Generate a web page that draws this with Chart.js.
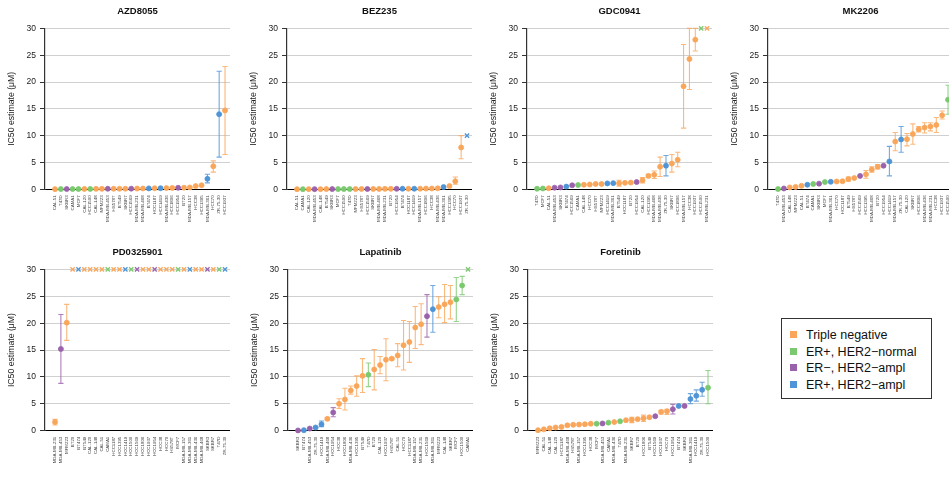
<!DOCTYPE html>
<html>
<head>
<meta charset="utf-8">
<script src="https://cdn.jsdelivr.net/npm/chart.js@4.4.1/dist/chart.umd.min.js"></script>
<style>
  html, body { margin: 0; padding: 0; background: #fff; overflow: hidden; }
  body { width: 949px; height: 477px; position: relative; }
  canvas { position: absolute; }
  #legend {
    position: absolute; left: 781px; top: 318px; width: 149px; height: 79px;
    border: 1px solid #333; font-family: 'Liberation Sans', Arial, sans-serif;
    font-size: 12.5px; color: #111;
  }
  .item { position: absolute; left: 8px; height: 16px; line-height: 16px; white-space: nowrap; }
  .swatch { display: inline-block; width: 7px; height: 7px; margin-right: 9px; vertical-align: 1px; }
</style>
</head>
<body>
<div id="legend"></div>
<script>
// Subtype of each cell line
const tripleNegative = ['BT20', 'BT549', 'CAL-120', 'CAL-148', 'CAL-51', 'HCC1187', 'HCC1395', 'HCC1806', 'HCC1937',
  'HCC38', 'HCC70', 'HS578T', 'MDA-MB-157', 'MDA-MB-231', 'MDA-MB-436', 'MDA-MB-468', 'MFM223', 'SKBR7'];
const erPosHer2Normal = ['CAMA1', 'HCC1500', 'MCF7', 'T47D'];
const erNegHer2Ampl = ['HCC1569', 'HCC1954', 'MDA-MB-453', 'SKBR3'];
const erPosHer2Ampl = ['BT474', 'HCC1419', 'MDA-MB-361', 'ZR-75-30'];
const subtypeNames = ['Triple negative', 'ER+, HER2\u2212normal', 'ER\u2212, HER2\u2212ampl', 'ER+, HER2\u2212ampl'];
const subtypeColors = ['#f9a65a', '#7bc96f', '#9a62ab', '#4e94d6'];

// AZD8055
const azdLines = ['CAL-51', 'T47D', 'SKBR3', 'CAMA1', 'MCF7', 'CAL-120', 'HCC1500', 'CAL-148', 'MFM223', 'MDA-MB-453',
  'HS578T', 'BT549', 'SKBR7', 'HCC1569', 'MDA-MB-231', 'MDA-MB-468', 'BT474', 'HCC1187', 'HCC1419', 'MDA-MB-436',
  'HCC1806', 'HCC1954', 'BT20', 'MDA-MB-157', 'HCC38', 'HCC1395', 'MDA-MB-361', 'HCC70', 'ZR-75-30', 'HCC1937'];
const azdIc50 = [0.03, 0.04, 0.05, 0.05, 0.05, 0.06, 0.07, 0.08, 0.08, 0.1, 0.1, 0.1, 0.11, 0.12, 0.13, 0.15, 0.17, 0.19,
  0.2, 0.22, 0.25, 0.28, 0.3, 0.35, 0.6, 0.75, 1.95, 4.3, 14.0, 14.7];
const azdLow = [null, null, null, null, null, null, null, null, null, null, null, null, null, null, null, null, null, null,
  null, null, null, null, null, null, null, null, 1.2, 3.2, 6.0, 6.5];
const azdHigh = [null, null, null, null, null, null, null, null, null, null, null, null, null, null, null, null, null, null,
  null, null, null, null, null, null, null, null, 2.8, 5.3, 22.0, 22.9];

// BEZ235
const bezLines = ['CAL-51', 'CAMA1', 'CAL-120', 'MDA-MB-453', 'CAL-148', 'BT549', 'SKBR3', 'MCF7', 'HCC1500', 'T47D',
  'MFM223', 'HS578T', 'HCC1569', 'SKBR7', 'MDA-MB-468', 'MDA-MB-231', 'BT20', 'HCC1954', 'BT474', 'HCC1187',
  'HCC1419', 'MDA-MB-157', 'HCC1806', 'HCC38', 'MDA-MB-436', 'MDA-MB-361', 'HCC1395', 'HCC70', 'HCC1937', 'ZR-75-30'];
const bezIc50 = [0.02, 0.02, 0.03, 0.03, 0.03, 0.04, 0.04, 0.04, 0.05, 0.05, 0.05, 0.06, 0.06, 0.07, 0.07, 0.08, 0.08,
  0.09, 0.1, 0.1, 0.11, 0.12, 0.13, 0.15, 0.18, 0.42, 0.6, 1.5, 7.8, 10];
const bezLow = [null, null, null, null, null, null, null, null, null, null, null, null, null, null, null, null, null, null,
  null, null, null, null, null, null, null, null, null, 0.95, 5.7, null];
const bezHigh = [null, null, null, null, null, null, null, null, null, null, null, null, null, null, null, null, null, null,
  null, null, null, null, null, null, null, null, null, 2.3, 10.0, null];

// GDC0941
const gdcLines = ['T47D', 'MCF7', 'CAL-51', 'MDA-MB-453', 'SKBR3', 'BT474', 'HCC1569', 'CAMA1', 'CAL-148', 'HCC70',
  'HS578T', 'MFM223', 'HCC1419', 'MDA-MB-361', 'BT549', 'HCC1187', 'BT20', 'HCC1954', 'CAL-120', 'HCC1395',
  'MDA-MB-468', 'MDA-MB-436', 'ZR-75-30', 'SKBR7', 'HCC1806', 'MDA-MB-157', 'HCC38', 'HCC1937', 'HCC1500', 'MDA-MB-231'];
const gdcIc50 = [0.1, 0.15, 0.2, 0.3, 0.35, 0.5, 0.75, 0.8, 0.85, 0.9, 1.0, 1.0, 1.1, 1.15, 1.15, 1.2, 1.25, 1.35, 1.7,
  2.5, 2.7, 4.2, 4.4, 4.8, 5.5, 19.2, 24.3, 27.9, 30, 30];
const gdcLow = [null, null, null, null, null, null, null, null, null, null, null, null, null, null, 0.6, null, null, null,
  1.2, 2.2, 2.0, 2.4, 2.5, 3.2, 4.2, 11.4, 18.6, 25.8, null, null];
const gdcHigh = [null, null, null, null, null, null, null, null, null, null, null, null, null, null, 1.7, null, null, null,
  2.2, 2.8, 3.4, 6.0, 6.3, 6.5, 6.9, 27.0, 30, 30, null, null];

// MK2206
const mkLines = ['T47D', 'MDA-MB-453', 'CAL-148', 'MFM223', 'CAL-51', 'BT474', 'CAMA1', 'SKBR3', 'MCF7', 'MDA-MB-361',
  'HCC70', 'HCC1187', 'BT549', 'HS578T', 'HCC1569', 'HCC1395', 'MDA-MB-468', 'BT20', 'HCC1954', 'HCC1419',
  'MDA-MB-157', 'ZR-75-30', 'CAL-120', 'SKBR7', 'HCC1806', 'MDA-MB-436', 'MDA-MB-231', 'HCC38', 'HCC1937', 'HCC1500'];
const mkIc50 = [0.05, 0.15, 0.35, 0.45, 0.65, 0.85, 1.0, 1.05, 1.35, 1.4, 1.45, 1.5, 1.9, 2.1, 2.5, 2.8, 3.7, 4.2, 4.4,
  5.2, 8.9, 9.3, 9.35, 10.3, 11.2, 11.5, 11.7, 12.0, 13.8, 16.7];
const mkLow = [null, null, null, null, null, null, null, null, null, null, null, null, 1.5, null, null, 2.05, 3.2, 3.8,
  null, 2.5, 7.2, 6.9, 8.1, 8.4, 10.7, 10.5, 10.9, 10.6, 13.1, 14.0];
const mkHigh = [null, null, null, null, null, null, null, null, null, null, null, null, 2.3, null, null, 3.5, 4.2, 4.6,
  null, 8.0, 10.6, 11.7, 10.4, 12.2, 11.7, 12.4, 12.4, 13.4, 14.6, 19.4];

// PD0325901
const pdLines = ['MDA-MB-231', 'MDA-MB-453', 'MFM223', 'BT20', 'BT474', 'BT549', 'CAL-120', 'CAL-148', 'CAL-51', 'CAMA1',
  'HCC1187', 'HCC1395', 'HCC1419', 'HCC1500', 'HCC1569', 'HCC1806', 'HCC1937', 'HCC1954', 'HCC38', 'HCC70',
  'HS578T', 'MCF7', 'MDA-MB-157', 'MDA-MB-361', 'MDA-MB-436', 'MDA-MB-468', 'SKBR3', 'SKBR7', 'T47D', 'ZR-75-30'];
const pdIc50 = [1.6, 15.2, 20.1, 30, 30, 30, 30, 30, 30, 30, 30, 30, 30, 30, 30, 30, 30, 30, 30, 30, 30, 30, 30, 30, 30,
  30, 30, 30, 30, 30];
const pdLow = [1.05, 8.8, 16.8, null, null, null, null, null, null, null, null, null, null, null, null, null, null, null,
  null, null, null, null, null, null, null, null, null, null, null, null];
const pdHigh = [2.1, 21.6, 23.5, null, null, null, null, null, null, null, null, null, null, null, null, null, null, null,
  null, null, null, null, null, null, null, null, null, null, null, null];

// Lapatinib
const lapLines = ['SKBR3', 'BT474', 'MDA-MB-453', 'ZR-75-30', 'HCC1419', 'MDA-MB-468', 'HCC1954', 'HCC38', 'HCC1806',
  'MDA-MB-436', 'HCC1395', 'BT549', 'T47D', 'BT20', 'CAL-120', 'HCC1937', 'HS578T', 'CAL-51', 'HCC70', 'HCC1187',
  'MDA-MB-157', 'MDA-MB-231', 'HCC1569', 'MDA-MB-361', 'MFM223', 'CAL-148', 'SKBR7', 'MCF7', 'HCC1500', 'CAMA1'];
const lapIc50 = [0.05, 0.1, 0.4, 0.6, 1.2, 2.2, 3.4, 5.0, 5.8, 7.5, 8.3, 10.2, 10.4, 11.4, 12.2, 13.2, 13.4, 14.0, 15.9,
  16.5, 19.2, 19.8, 21.3, 22.6, 23.0, 23.5, 23.9, 24.4, 27.0, 30];
const lapLow = [null, null, null, 0.45, 0.75, 2.0, 2.6, 4.15, 3.85, 6.8, 6.4, 7.1, 8.2, 7.6, 10.6, 9.3, 13.2, 11.9, 11.3,
  12.7, 15.3, 16.0, 17.4, 18.3, 21.0, 20.1, 20.8, 20.3, 25.3, null];
const lapHigh = [null, null, null, 0.75, 1.8, 2.4, 4.3, 5.95, 7.9, 8.3, 10.2, 13.4, 12.6, 15.1, 13.8, 17.1, 13.6, 16.2,
  20.5, 20.3, 23.1, 23.6, 25.3, 27.0, 24.9, 27.2, 27.0, 28.5, 28.7, null];

// Foretinib
const forLines = ['MFM223', 'CAL-51', 'CAL-148', 'CAL-120', 'HCC1187', 'MDA-MB-468', 'HS578T', 'MDA-MB-157', 'HCC1395',
  'HCC38', 'MCF7', 'MDA-MB-453', 'CAMA1', 'MDA-MB-436', 'T47D', 'MDA-MB-231', 'SKBR7', 'BT20', 'HCC1806', 'BT549',
  'HCC1569', 'HCC1937', 'HCC70', 'HCC1954', 'BT474', 'SKBR3', 'MDA-MB-361', 'HCC1419', 'ZR-75-30', 'HCC1500'];
const forIc50 = [0.1, 0.25, 0.45, 0.6, 0.7, 1.0, 1.1, 1.15, 1.2, 1.3, 1.3, 1.35, 1.5, 1.6, 1.75, 1.95, 2.05, 2.15, 2.3,
  2.5, 2.7, 3.5, 3.6, 4.0, 4.6, 4.6, 5.9, 6.5, 7.6, 8.0];
const forLow = [null, null, null, null, null, null, null, null, null, null, null, null, null, null, null, null, 1.5, null,
  1.7, null, null, 3.1, 3.0, 3.1, null, null, 5.0, 5.5, 6.4, 5.0];
const forHigh = [null, null, null, null, null, null, null, null, null, null, null, null, null, null, null, null, 2.5, null,
  2.9, null, null, 3.8, 4.0, 4.9, null, null, 6.9, 7.6, 9.0, 11.2];

const FONT = "'Liberation Sans', Arial, Helvetica, sans-serif";
Chart.defaults.font.family = FONT;

function subtypeColor(name) {
  if (erPosHer2Normal.includes(name)) return subtypeColors[1];
  if (erNegHer2Ampl.includes(name)) return subtypeColors[2];
  if (erPosHer2Ampl.includes(name)) return subtypeColors[3];
  return subtypeColors[0];
}

function withAlpha(hex, a) {
  const n = parseInt(hex.slice(1), 16);
  return `rgba(${n >> 16}, ${(n >> 8) & 255}, ${n & 255}, ${a})`;
}

// draws the confidence interval whiskers behind the points
const errorBars = {
  id: 'errorBars',
  beforeDatasetsDraw(chart) {
    const { ctx, scales: { x, y } } = chart;
    const ds = chart.data.datasets[0];
    ctx.save();
    ctx.lineWidth = 1.1;
    ds.errLow.forEach((lo, i) => {
      const hi = ds.errHigh[i];
      if (lo == null || hi == null) return;
      const px = x.getPixelForValue(i);
      const yLo = y.getPixelForValue(lo);
      const yHi = y.getPixelForValue(hi);
      ctx.strokeStyle = withAlpha(ds.pointBackgroundColor[i], 0.8);
      ctx.beginPath();
      ctx.moveTo(px, yLo); ctx.lineTo(px, yHi);
      ctx.moveTo(px - 2.6, yLo); ctx.lineTo(px + 2.6, yLo);
      ctx.moveTo(px - 2.6, yHi); ctx.lineTo(px + 2.6, yHi);
      ctx.stroke();
    });
    ctx.restore();
  }
};

const panels = [
  { title: 'AZD8055', lines: azdLines, ic50: azdIc50, low: azdLow, high: azdHigh, ceiling: 30, left: 0, top: 0, height: 240, titleTop: 6, axisH: 50.7 },
  { title: 'BEZ235', lines: bezLines, ic50: bezIc50, low: bezLow, high: bezHigh, ceiling: 10, left: 242, top: 0, height: 240, titleTop: 6, axisH: 50.7 },
  { title: 'GDC0941', lines: gdcLines, ic50: gdcIc50, low: gdcLow, high: gdcHigh, ceiling: 30, left: 482, top: 0, height: 240, titleTop: 6, axisH: 50.7 },
  { title: 'MK2206', lines: mkLines, ic50: mkIc50, low: mkLow, high: mkHigh, ceiling: 30, left: 723, top: 0, height: 240, titleTop: 6, axisH: 50.7 },
  { title: 'PD0325901', lines: pdLines, ic50: pdIc50, low: pdLow, high: pdHigh, ceiling: 30, left: 0, top: 240, height: 237, titleTop: 7, axisH: 46.3 },
  { title: 'Lapatinib', lines: lapLines, ic50: lapIc50, low: lapLow, high: lapHigh, ceiling: 30, left: 243, top: 240, height: 237, titleTop: 7, axisH: 46.3 },
  { title: 'Foretinib', lines: forLines, ic50: forIc50, low: forLow, high: forHigh, ceiling: 30, left: 483, top: 240, height: 237, titleTop: 7, axisH: 46.3 }
];

panels.forEach(p => {
  const canvas = document.createElement('canvas');
  canvas.width = 240;
  canvas.height = p.height;
  canvas.style.left = p.left + 'px';
  canvas.style.top = p.top + 'px';
  document.body.appendChild(canvas);

  const colors = p.lines.map(subtypeColor);
  const censored = p.ic50.map(v => v >= p.ceiling);

  new Chart(canvas, {
    type: 'scatter',
    data: {
      datasets: [{
        data: p.ic50.map((v, i) => ({ x: i, y: v })),
        errLow: p.low,
        errHigh: p.high,
        pointBackgroundColor: colors,
        pointBorderColor: colors,
        pointStyle: censored.map(c => c ? 'crossRot' : 'circle'),
        pointRadius: censored.map(c => c ? 3 : 2.5),
        pointBorderWidth: censored.map(c => c ? 1.3 : 0.8),
        clip: false
      }]
    },
    options: {
      responsive: false,
      animation: false,
      events: [],
      layout: { padding: { right: 10 } },
      plugins: {
        legend: { display: false },
        tooltip: { enabled: false },
        title: {
          display: true,
          fullSize: false,
          text: p.title,
          color: '#111',
          font: { size: 9.5, weight: 'bold' },
          padding: { top: p.titleTop, bottom: 11 }
        }
      },
      scales: {
        x: {
          type: 'linear',
          min: -1.71,
          max: 29.85,
          afterBuildTicks: ax => { ax.ticks = p.lines.map((_, i) => ({ value: i })); },
          afterFit: ax => { ax.height = p.axisH; },
          grid: { display: false, drawTicks: false },
          border: { display: false },
          ticks: {
            autoSkip: false,
            minRotation: 90,
            maxRotation: 90,
            padding: 6,
            color: '#444',
            font: { size: 4.4 },
            callback: v => p.lines[v]
          }
        },
        y: {
          min: 0,
          max: 30,
          afterFit: ax => { ax.width = 45; },
          ticks: { stepSize: 5, padding: 4, color: '#222', font: { size: 8.5 } },
          grid: {
            color: c => c.tick && c.tick.value === 0 ? '#000' : '#d0d0d0',
            borderDash: [1.5, 3],
            tickColor: '#333',
            tickBorderDash: [],
            tickLength: 5,
            tickWidth: 1
          },
          border: { color: '#333', width: 1.2 },
          title: {
            display: true,
            text: 'IC50 estimate (\u03bcM)',
            color: '#222',
            font: { size: 8.7 },
            padding: { top: 6, bottom: 0 }
          }
        }
      }
    },
    plugins: [errorBars]
  });
});

// subtype key
const legend = document.getElementById('legend');
subtypeNames.forEach((name, i) => {
  const row = document.createElement('div');
  row.className = 'item';
  row.style.top = (8 + i * 16.5) + 'px';
  row.innerHTML = `<span class="swatch" style="background:${subtypeColors[i]}"></span>${name}`;
  legend.appendChild(row);
});
</script>
</body>
</html>
